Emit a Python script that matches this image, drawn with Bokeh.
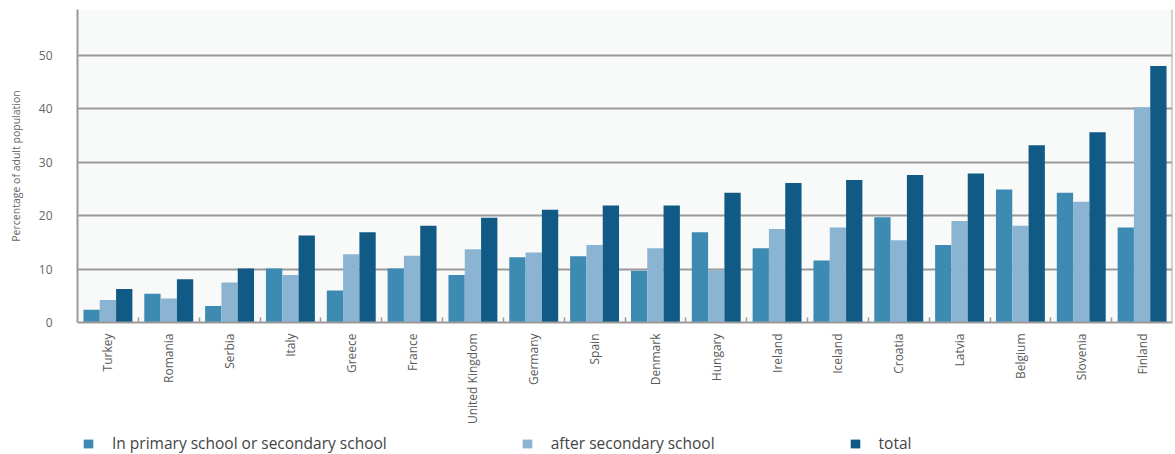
import math
from bokeh.plotting import figure
from bokeh.layouts import column
from bokeh.models import ColumnDataSource, FixedTicker, Legend, LegendItem, Span, Range1d
from bokeh.embed import file_html
from bokeh.resources import INLINE

countries = ["Turkey", "Romania", "Serbia", "Italy", "Greece", "France", "United Kingdom",
             "Germany", "Spain", "Denmark", "Hungary", "Ireland", "Iceland", "Croatia",
             "Latvia", "Belgium", "Slovenia", "Finland"]
primary = [2.4, 5.4, 3.1, 10.1, 6.0, 10.1, 8.9, 12.2, 12.4, 9.7, 16.9, 13.9, 11.6, 19.7, 14.5, 24.9, 24.3, 17.8]
after = [4.2, 4.5, 7.5, 8.9, 12.8, 12.5, 13.7, 13.1, 14.5, 13.9, 9.8, 17.5, 17.8, 15.4, 19.0, 18.1, 22.6, 40.3]
total = [6.25, 8.1, 10.1, 16.3, 16.9, 18.1, 19.6, 21.1, 21.9, 21.9, 24.3, 26.1, 26.7, 27.6, 27.9, 33.2, 35.6, 48.0]
series_labels = ["In primary school or secondary school", "after secondary school", "total"]
y_ticks = [0, 10, 20, 30, 40, 50]

colors = ["#3d8bb2", "#8ab4d2", "#115a85"]
n = len(countries)
centers = [i + 0.5 for i in range(n)]
bw = 0.268

p = figure(width=1175, height=427, output_backend="svg", toolbar_location=None,
           x_range=Range1d(0, n), y_range=Range1d(0, 58.6),
           min_border_left=77, min_border_right=3, min_border_top=9, min_border_bottom=105)
p.background_fill_color = "#f8f9f9"
p.border_fill_color = "white"
p.outline_line_color = None

sources = []
for k, vals in enumerate([primary, after, total]):
    src = ColumnDataSource(dict(x=[c + (k - 1) * bw for c in centers], top=vals))
    sources.append(src)
    p.vbar(x="x", top="top", width=bw, bottom=0, source=src,
           fill_color=colors[k], line_color=None)

# axes
p.xaxis.ticker = FixedTicker(ticks=centers, minor_ticks=list(range(1, n)))
p.xaxis.major_label_overrides = {c: name for c, name in zip(centers, countries)}
p.xaxis.major_label_orientation = math.pi / 2
p.xaxis.major_tick_line_color = None
p.xaxis.minor_tick_in = 5
p.xaxis.minor_tick_out = 0
p.xaxis.minor_tick_line_color = "#9a9a9a"
p.xaxis.minor_tick_line_width = 1.5
p.xaxis.axis_line_color = "#9a9a9a"
p.xaxis.axis_line_width = 2
p.xaxis.major_label_standoff = 5
p.xaxis.major_label_text_font = "Open Sans"
p.xaxis.major_label_text_font_size = "12px"
p.xaxis.major_label_text_color = "#5a5a5a"

p.yaxis.ticker = FixedTicker(ticks=y_ticks)
p.yaxis.major_tick_line_color = None
p.yaxis.minor_tick_line_color = None
p.yaxis.axis_line_color = "#9a9a9a"
p.yaxis.axis_line_width = 2
p.yaxis.major_label_standoff = 19
p.yaxis.major_label_text_font = "Open Sans"
p.yaxis.major_label_text_font_size = "12px"
p.yaxis.major_label_text_color = "#666666"
p.yaxis.axis_label = "Percentage of adult population"
p.yaxis.axis_label_text_font = "Open Sans"
p.yaxis.axis_label_text_font_size = "10.5px"
p.yaxis.axis_label_text_font_style = "normal"
p.yaxis.axis_label_text_color = "#666666"
p.yaxis.axis_label_standoff = 13

p.xgrid.grid_line_color = None
p.ygrid.ticker = FixedTicker(ticks=y_ticks[1:])
p.ygrid.grid_line_color = "#9a9a9a"
p.ygrid.grid_line_width = 2

p.add_layout(Span(location=n, dimension="height", line_color="#aaaaaa", line_width=2))

# legend strip (separate figure below the chart; bars kept out of its view)
lg = figure(width=1175, height=27, output_backend="svg", toolbar_location=None,
            x_range=Range1d(0, n), y_range=Range1d(1000, 1001),
            min_border_left=0, min_border_right=0, min_border_top=0, min_border_bottom=0)
lg.axis.visible = False
lg.grid.visible = False
lg.outline_line_color = None
lg.background_fill_color = "white"
proxies = [lg.vbar(x="x", top="top", width=bw, bottom=0, source=sources[k],
                   fill_color=colors[k], line_color=None) for k in range(3)]

legend = Legend(items=[LegendItem(label=series_labels[k], renderers=[proxies[k]]) for k in range(3)],
                orientation="horizontal", location=(5, 0),
                glyph_width=12, glyph_height=11, label_height=12, label_standoff=18,
                spacing=134, padding=1, margin=0,
                label_text_font="Open Sans", label_text_font_size="15.5px",
                label_text_color="#444444", background_fill_alpha=0, border_line_color=None)
lg.add_layout(legend, "center")

open("out.html", "w").write(file_html(column(p, lg, spacing=0), INLINE))
